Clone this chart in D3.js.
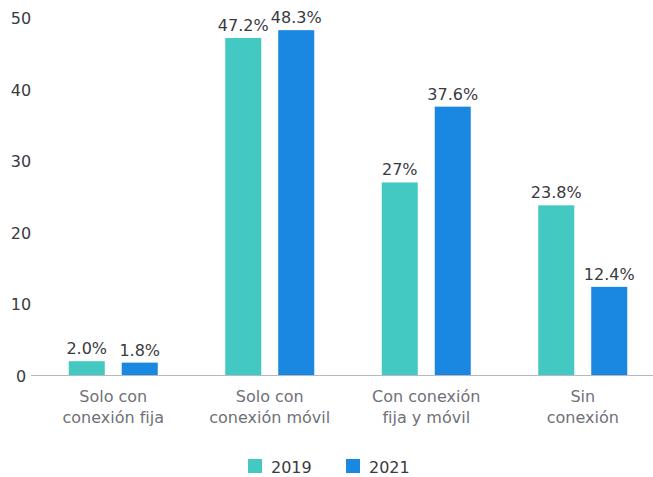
<!DOCTYPE html>
<html lang="es">
<head>
<meta charset="UTF-8">
<title>Conexión</title>
<script src="https://cdn.jsdelivr.net/npm/d3@7"></script>
<style>
  body { margin: 0; background: #fff; }
  text { font-family: "DejaVu Sans", Verdana, sans-serif; }
</style>
</head>
<body>
<div id="chart"></div>
<script>
// data
var categories = [["Solo con", "conexión fija"], ["Solo con", "conexión móvil"], ["Con conexión", "fija y móvil"], ["Sin", "conexión"]];
var years = ["2019", "2021"];
var values2019 = [2.0, 47.2, 27, 23.8];
var values2021 = [1.8, 48.3, 37.6, 12.4];
var labels2019 = ["2.0%", "47.2%", "27%", "23.8%"];
var labels2021 = ["1.8%", "48.3%", "37.6%", "12.4%"];
var yTicks = [0, 10, 20, 30, 40, 50];
var colors = ["#43c9c1", "#1a88e1"];

var width = 653, height = 477;

var svg = d3.select("#chart").append("svg")
    .attr("width", width)
    .attr("height", height);

var x = d3.scaleBand()
    .domain(d3.range(categories.length))
    .range([35, 661])
    .paddingInner(0)
    .paddingOuter(0);

var y = d3.scaleLinear()
    .domain([0, 50])
    .range([375.5, 18]);

var inner = d3.scaleBand()
    .domain(years)
    .range([-44.5, 44.5])
    .paddingInner(0.32);

// y tick labels
svg.append("g")
  .selectAll("text")
  .data(yTicks)
  .enter().append("text")
    .attr("x", 21)
    .attr("y", function(d) { return y(d) + 6; })
    .attr("text-anchor", "middle")
    .style("font-size", "16px")
    .style("fill", "#3a3a3f")
    .text(function(d) { return d; });

var series = [values2019, values2021];
var labels = [labels2019, labels2021];

years.forEach(function(yr, s) {
  var g = svg.append("g");
  g.selectAll("rect")
    .data(series[s])
    .enter().append("rect")
      .attr("x", function(d, i) { return x(i) + x.bandwidth() / 2 + inner(yr); })
      .attr("width", inner.bandwidth())
      .attr("y", function(d) { return y(d); })
      .attr("height", function(d) { return y(0) - y(d); })
      .attr("fill", colors[s]);

  g.selectAll("text")
    .data(series[s])
    .enter().append("text")
      .attr("x", function(d, i) { return x(i) + x.bandwidth() / 2 + inner(yr) + inner.bandwidth() / 2; })
      .attr("y", function(d) { return y(d) - 7; })
      .attr("text-anchor", "middle")
      .style("font-size", "16px")
      .style("fill", "#3a3a3f")
      .text(function(d, i) { return labels[s][i]; });
});

// baseline
svg.append("line")
    .attr("x1", 31).attr("x2", width)
    .attr("y1", y(0)).attr("y2", y(0))
    .attr("stroke", "#b4b8c0")
    .attr("stroke-width", 1);

// category labels
var cat = svg.append("g")
  .selectAll("text")
  .data(categories)
  .enter().append("text")
    .attr("x", function(d, i) { return x(i) + x.bandwidth() / 2; })
    .attr("y", 402)
    .attr("text-anchor", "middle")
    .style("font-size", "16px")
    .style("fill", "#707079");

cat.selectAll("tspan")
  .data(function(d) { return d; })
  .enter().append("tspan")
    .attr("x", function() { return d3.select(this.parentNode).attr("x"); })
    .attr("dy", function(d, i) { return i ? 21 : 0; })
    .text(function(d) { return d; });

// legend
var legendX = [248, 346];
var legend = svg.append("g")
  .selectAll("g")
  .data(years)
  .enter().append("g")
    .attr("transform", function(d, i) { return "translate(" + legendX[i] + ",459)"; });

legend.append("rect")
    .attr("width", 14).attr("height", 14)
    .attr("fill", function(d, i) { return colors[i]; });

legend.append("text")
    .attr("x", 23)
    .attr("y", 14)
    .style("font-size", "16px")
    .style("fill", "#3a3a3f")
    .text(function(d) { return d; });
</script>
</body>
</html>
